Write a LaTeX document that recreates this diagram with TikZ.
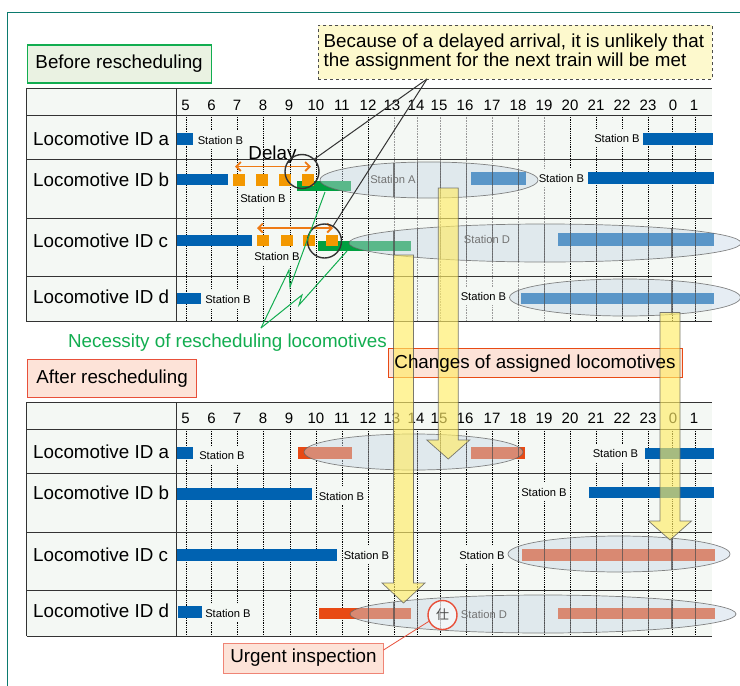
\documentclass[tikz,border=0pt]{standalone}
\usepackage{fontspec}
\setmainfont{Liberation Sans}
\newfontfamily\cjkfont{Noto Sans CJK JP}
\usetikzlibrary{positioning,arrows.meta}

\definecolor{tablebg}{HTML}{F4F8F4}
\definecolor{tableline}{HTML}{333333}
\definecolor{framecol}{HTML}{0B7A6E}
\definecolor{locoblue}{HTML}{0062B1}
\definecolor{delayorange}{HTML}{F39800}
\definecolor{arroworange}{HTML}{EE7A14}
\definecolor{locogreen}{HTML}{00A040}
\definecolor{lineGreen}{HTML}{12AD50}
\definecolor{locored}{HTML}{E84A14}
\definecolor{ellipsecol}{HTML}{C8D7E6}
\definecolor{arrowyellow}{HTML}{FFEC66}
\definecolor{notefill}{HTML}{FDF9CD}
\definecolor{beforefill}{HTML}{EAF2E2}
\definecolor{salmonfill}{HTML}{FDE3D8}
\definecolor{salmonline}{HTML}{E8503A}

\tikzset{
    bigtext/.style={font=\fontsize{18.8}{19}\selectfont},
    rowlabel/.style={anchor=west, inner sep=0pt, bigtext},
    hourlabel/.style={inner sep=0pt, font=\fontsize{15}{16}\selectfont},
    stationlabel/.style={fill=tablebg, inner xsep=1pt, inner ysep=5pt, font=\fontsize{11.2}{12}\selectfont},
    ellipselabel/.style={inner sep=0pt, text=black!55, font=\fontsize{11.2}{12}\selectfont},
    griddark/.style={black, densely dotted, line width=0.8pt},
    gridlight/.style={black!40, densely dotted, line width=0.6pt},
    ellipseshade/.style={fill=ellipsecol, fill opacity=0.45, draw=black!60, draw opacity=0.8, line width=0.7pt},
    ellipsegrid/.style={black!70, opacity=0.7, line width=1.3pt},
    titlebox/.style={anchor=west, inner sep=0pt, bigtext, line width=1.2pt},
    yellowarrow/.style={fill=arrowyellow, fill opacity=0.65, draw=black!65, draw opacity=0.8, line width=0.7pt},
    delayring/.style={circle, draw=tableline, line width=1.4pt, minimum size=34pt, inner sep=0pt},
    delayspan/.style={arroworange, line width=1.8pt, {Straight Barb[length=4.5pt,width=9pt]}-{Straight Barb[length=4.5pt,width=9pt]}},
}

\begin{document}
\begin{tikzpicture}[x=1pt, y=-1pt]
    \useasboundingbox (0,0) rectangle (740,686);
    \draw[framecol, line width=1pt] (7.5,686) -- (7.5,12.5) -- (740,12.5);

    % table backgrounds
    \fill[tablebg] (26.5,88) rectangle (712,321.5);
    \fill[tablebg] (26.5,402) rectangle (712,636);

    % hours
    \foreach \hour/\gx/\lx in {5/186/185.5, 6/211.5/211.5, 7/237.5/237, 8/263.5/263, 9/290/289, 10/316/316,
        11/342/342, 12/368.5/368, 13/394/392, 14/417.5/416, 15/440.5/439, 16/466.5/465, 17/492.5/492,
        18/518.5/518, 19/544.5/544, 20/570.5/570, 21/596.5/596, 22/622.5/622, 23/648.5/648, 0/672/673, 1/695.5/694}{
        \node[hourlabel] (topHour\hour) at (\lx,105) {\hour};
        \node[hourlabel] (lowHour\hour) at (\lx,418) {\hour};
        \draw[griddark] (\gx,429) -- (\gx,636);
    }
    \foreach \gx in {186,211.5,237.5,263.5,290,316,342,368.5,570.5,596.5,622.5,648.5,672,695.5}
        \draw[griddark] (\gx,115) -- (\gx,321.5);
    \foreach \gx in {394,417.5,440.5,466.5,492.5,518.5,544.5}
        \draw[gridlight] (\gx,115) -- (\gx,321.5);

    % station labels, they cut the grid
    \foreach \sname/\sx/\sy in {TopA/220.5/140, TopB/263/198, TopC/277/256, TopD/228/299.5,
        TopAr/617/138, TopBr/561.5/178, TopDr/483.5/296,
        LowA/222/455, LowB/341.5/496, LowC/366.5/555, LowD/228/613,
        LowAr/615.5/453, LowBr/544/492, LowCr/482/555}{
        \node[stationlabel] (station\sname) at (\sx,\sy) {Station B};
    }

    % table rules
    \foreach \ty in {88,115,159,218,276,321.5}
        \draw[tableline, line width=1pt] (26.5,\ty) -- (712,\ty);
    \foreach \ty in {402,429,473.5,532,590.5,636}
        \draw[tableline, line width=1pt] (26.5,\ty) -- (712,\ty);
    \draw[tableline, line width=1pt] (26.5,88) -- (26.5,321.5) (176.5,88) -- (176.5,321.5);
    \draw[tableline, line width=1pt] (26.5,402) -- (26.5,636) (176.5,402) -- (176.5,636);

    % row labels
    \foreach \rid/\ry/\rz in {a/138.5/451.5, b/179.5/492.5, c/241/555, d/297/610.5}{
        \node[rowlabel] (topRow\rid) at (33,\ry) {Locomotive ID \rid};
        \node[rowlabel] (lowRow\rid) at (33,\rz) {Locomotive ID \rid};
    }

    % blue bars
    \foreach \xa/\ya/\xb/\yb in {177/133/193/145, 643/133/713/145, 177/174/228/185, 588/172/714/184,
        471/172/526/184.5, 177/235/252/246, 558/233/714/246, 177/292.5/201/304, 521/292.5/714/304,
        177/447/193/459, 177/488/312/500, 177/549/337/561, 178/606/202/618, 645/447.5/714/459, 589/487/714/498}
        \fill[locoblue] (\xa,\ya) rectangle (\xb,\yb);
    % green bars
    \fill[locogreen] (297,181) rectangle (351,191);
    \fill[locogreen] (318,241) rectangle (411,251);
    % red bars
    \foreach \xa/\ya/\xb/\yb in {298/447/352/459, 471/447/525/459, 521.5/549/715/561, 319/608/411/619, 558/608/714.5/619}
        \fill[locored] (\xa,\ya) rectangle (\xb,\yb);

    % ellipses with the grid showing through
    \foreach \cx/\cy/\rx/\ry in {429/180/109/18, 545/243/196/19, 625/297.5/115.5/18.5,
        413.5/452/109.5/18, 619/554/111/18, 543/614/193/19}{
        \draw[ellipseshade] (\cx,\cy) ellipse [x radius=\rx, y radius=\ry];
        \begin{scope}
            \clip (\cx,\cy) ellipse [x radius=\rx, y radius=\ry];
            \foreach \gx in {368.5,394,417.5,440.5,466.5,492.5,518.5,544.5,570.5,596.5,622.5,648.5,672,695.5}
                \draw[ellipsegrid] (\gx,90) -- (\gx,640);
        \end{scope}
    }
    \node[ellipselabel] (stationA) at (393,179) {Station A};
    \node[ellipselabel] (stationD) at (487,239) {Station D};
    \node[ellipselabel] (stationDlow) at (484,614) {Station D};

    % delay squares
    \foreach \xa in {233,256,279,301.5}
        \fill[delayorange] (\xa,174) rectangle ++(12,11.5);
    \foreach \xa in {257,281,303,325.5}
        \fill[delayorange] (\xa,234.5) rectangle ++(12,11.5);
    \coordinate (spanbL) at (235,166.5);
    \coordinate (spanbR) at (311,166.5);
    \coordinate (spancL) at (257,228);
    \coordinate (spancR) at (333,228);
    \draw[delayspan] (spanbL) -- (spanbR);
    \draw[delayspan] (spancL) -- (spancR);
    \coordinate (spanbMid) at (272.5,166.5);
    \node[inner sep=0pt, bigtext, above=2.5pt of spanbMid] (delay) {Delay};
    \node[delayring] (ringb) at (302,171.5) {};
    \node[delayring] (ringc) at (324.5,241) {};

    % title boxes
    \node[titlebox, draw=lineGreen, fill=beforefill, minimum width=184pt, minimum height=38pt] (before) at (26.5,64) {Before rescheduling};
    \node[titlebox, draw=salmonline, fill=salmonfill, minimum width=169pt, minimum height=38pt] (after) at (27,378.5) {After rescheduling};

    % note
    \node[draw=black!70, dashed, fill=notefill, line width=0.8pt, minimum width=394pt, minimum height=54pt, inner sep=0pt, anchor=north west] (note) at (318,25) {};
    \node[anchor=west, align=left, inner sep=0pt, bigtext] (notetext) at (323.5,52.5) {Because of a delayed arrival, it is unlikely that\\the assignment for the next train will be met};
    \coordinate (noteTip) at (427,79);
    \draw[tableline, line width=1pt] (noteTip) -- (ringb.45);
    \draw[tableline, line width=1pt] (noteTip) -- (ringc.60);

    % necessity
    \node[lineGreen, inner sep=0pt, bigtext] (necessity) at (227.5,343) {Necessity of rescheduling locomotives};
    \coordinate (necessityTip) at (261,328);
    \coordinate (greenb) at (325,192);
    \coordinate (greenc) at (347,251);
    \draw[lineGreen, line width=1pt] (necessityTip) -- (289,270) -- (290,287) -- (greenb);
    \draw[lineGreen, line width=1pt] (necessityTip) -- (302,295) -- (299,305) -- (greenc);

    % changes box, text goes over the arrows
    \node[draw=locored, fill=salmonfill, line width=0.9pt, minimum width=294pt, minimum height=29pt, inner sep=0pt] (changes) at (535,362.5) {};

    % arrows
    \foreach \sx/\stop/\shead/\stip in {403.5/255/583/603, 448.25/188/440/459, 670/312.5/521/540}{
        \draw[yellowarrow] (\sx-10,\stop) -- (\sx+10,\stop) -- (\sx+10,\shead) -- (\sx+21.5,\shead)
            -- (\sx,\stip) -- (\sx-21.5,\shead) -- (\sx-10,\shead) -- cycle;
    }
    \node[inner sep=0pt, bigtext, yshift=-1pt] (changestext) at (changes) {Changes of assigned locomotives};

    % urgent inspection
    \node[circle, draw=salmonline, fill=white, fill opacity=0.6, text opacity=1, line width=1.4pt, minimum size=29pt, inner sep=0pt, text=black!70, font=\cjkfont\fontsize{13}{14}\selectfont] (inspect) at (442.5,615) {仕};
    \node[draw=salmonline!70, fill=salmonfill, line width=1pt, minimum width=160pt, minimum height=30pt, inner sep=0pt, bigtext] (urgent) at (303.5,658) {Urgent inspection};
    \coordinate (urgentEnd) at (383.5,650);
    \draw[salmonline, line width=0.8pt] (urgentEnd) -- (inspect.205);
\end{tikzpicture}
\end{document}
